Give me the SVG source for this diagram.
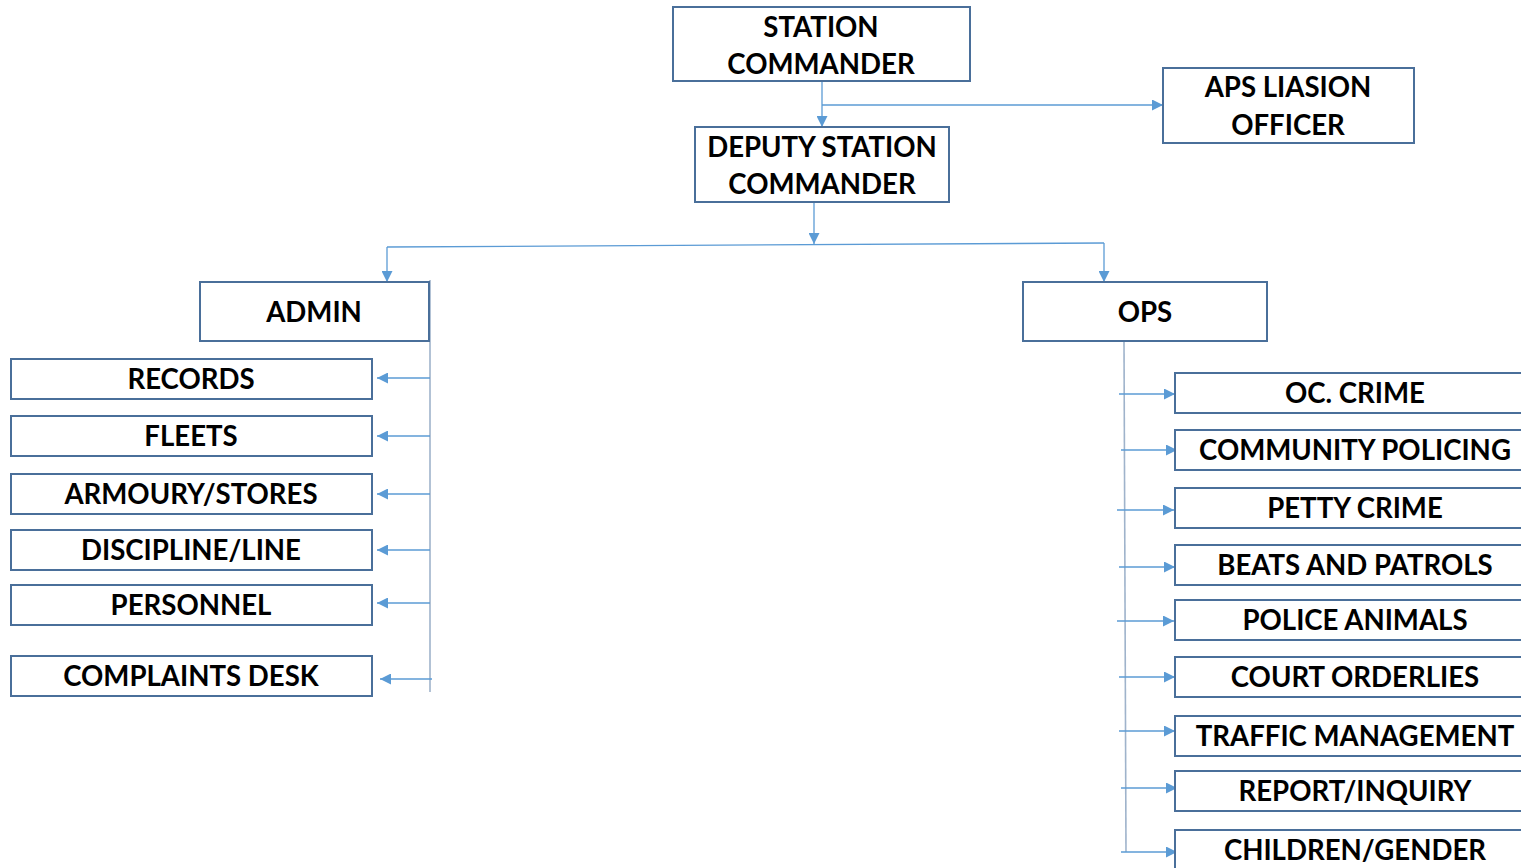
<svg xmlns="http://www.w3.org/2000/svg" width="1521" height="868" viewBox="0 0 1521 868">
<defs>
<style>
.box{fill:#fff;stroke:#4A6F9A;stroke-width:2}
.t{font-family:Lato,"Liberation Sans",sans-serif;font-weight:bold;font-size:27.6px;fill:#000;text-anchor:middle;dominant-baseline:central}
.c{stroke:#5B9BD5;stroke-width:1.3;fill:none}
.v{stroke:#9FB3CB;stroke-width:1.6;fill:none}
</style>
<marker id="ah" viewBox="0 0 10 10" refX="10" refY="5" markerWidth="11" markerHeight="11" markerUnits="userSpaceOnUse" orient="auto">
<path d="M0,0 L10,5 L0,10 z" fill="#5B9BD5"/>
</marker>
</defs>
<rect width="1521" height="868" fill="#fff"/>
<g id="connectors">
<line class="c" x1="822" y1="82" x2="822" y2="127" marker-end="url(#ah)"/>
<line class="c" x1="822" y1="105" x2="1163" y2="105" marker-end="url(#ah)"/>
<line class="c" x1="814" y1="203" x2="814" y2="244" marker-end="url(#ah)"/>
<line class="c" x1="387" y1="247" x2="1104" y2="243"/>
<line class="c" x1="387" y1="247" x2="387" y2="282" marker-end="url(#ah)"/>
<line class="c" x1="1104" y1="243" x2="1104" y2="282" marker-end="url(#ah)"/>
<line class="v" x1="430" y1="280" x2="430" y2="692"/>
<line class="c" x1="430" y1="378" x2="377" y2="378" marker-end="url(#ah)"/>
<line class="c" x1="430" y1="436" x2="377" y2="436" marker-end="url(#ah)"/>
<line class="c" x1="430" y1="494" x2="377" y2="494" marker-end="url(#ah)"/>
<line class="c" x1="430" y1="550" x2="377" y2="550" marker-end="url(#ah)"/>
<line class="c" x1="430" y1="603" x2="377" y2="603" marker-end="url(#ah)"/>
<line class="c" x1="432" y1="679" x2="380" y2="679" marker-end="url(#ah)"/>
<line class="v" x1="1124" y1="342" x2="1126" y2="852" stroke="#A9C8E8"/>
<line class="c" x1="1119" y1="394" x2="1175" y2="394" marker-end="url(#ah)"/>
<line class="c" x1="1121" y1="450" x2="1177" y2="450" marker-end="url(#ah)"/>
<line class="c" x1="1117" y1="510" x2="1174" y2="510" marker-end="url(#ah)"/>
<line class="c" x1="1119" y1="567" x2="1175" y2="567" marker-end="url(#ah)"/>
<line class="c" x1="1117" y1="621" x2="1174" y2="621" marker-end="url(#ah)"/>
<line class="c" x1="1119" y1="677" x2="1175" y2="677" marker-end="url(#ah)"/>
<line class="c" x1="1119" y1="731" x2="1175" y2="731" marker-end="url(#ah)"/>
<line class="c" x1="1121" y1="788" x2="1177" y2="788" marker-end="url(#ah)"/>
<line class="c" x1="1121" y1="852" x2="1177" y2="852" marker-end="url(#ah)"/>
</g>
<g id="station-commander"><rect class="box" x="673" y="7" width="297" height="74"/><text class="t" x="821" y="26">STATION</text><text class="t" x="821" y="63">COMMANDER</text></g>
<g id="aps-liaison"><rect class="box" x="1163" y="68" width="251" height="75"/><text class="t" x="1288" y="86">APS LIASION</text><text class="t" x="1288" y="124">OFFICER</text></g>
<g id="deputy"><rect class="box" x="695" y="127" width="254" height="75"/><text class="t" x="822" y="146">DEPUTY STATION</text><text class="t" x="822" y="183">COMMANDER</text></g>
<g id="admin"><rect class="box" x="200" y="282" width="229" height="59"/><text class="t" x="314" y="311">ADMIN</text></g>
<g id="ops"><rect class="box" x="1023" y="282" width="244" height="59"/><text class="t" x="1145" y="311">OPS</text></g>
<g id="records"><rect class="box" x="11" y="359" width="361" height="40"/><text class="t" x="191" y="378">RECORDS</text></g>
<g id="fleets"><rect class="box" x="11" y="416" width="361" height="40"/><text class="t" x="191" y="435">FLEETS</text></g>
<g id="armoury"><rect class="box" x="11" y="474" width="361" height="40"/><text class="t" x="191" y="493">ARMOURY/STORES</text></g>
<g id="discipline"><rect class="box" x="11" y="530" width="361" height="40"/><text class="t" x="191" y="549">DISCIPLINE/LINE</text></g>
<g id="personnel"><rect class="box" x="11" y="585" width="361" height="40"/><text class="t" x="191" y="604">PERSONNEL</text></g>
<g id="complaints"><rect class="box" x="11" y="656" width="361" height="40"/><text class="t" x="191" y="675">COMPLAINTS DESK</text></g>
<g id="oc-crime"><rect class="box" x="1175" y="373" width="360" height="40"/><text class="t" x="1355" y="392">OC. CRIME</text></g>
<g id="community"><rect class="box" x="1175" y="430" width="360" height="40"/><text class="t" x="1355" y="449">COMMUNITY POLICING</text></g>
<g id="petty"><rect class="box" x="1175" y="488" width="360" height="40"/><text class="t" x="1355" y="507">PETTY CRIME</text></g>
<g id="beats"><rect class="box" x="1175" y="545" width="360" height="40"/><text class="t" x="1355" y="564">BEATS AND PATROLS</text></g>
<g id="animals"><rect class="box" x="1175" y="600" width="360" height="40"/><text class="t" x="1355" y="619">POLICE ANIMALS</text></g>
<g id="court"><rect class="box" x="1175" y="657" width="360" height="40"/><text class="t" x="1355" y="676">COURT ORDERLIES</text></g>
<g id="traffic"><rect class="box" x="1175" y="716" width="360" height="40"/><text class="t" x="1355" y="735">TRAFFIC MANAGEMENT</text></g>
<g id="report"><rect class="box" x="1175" y="771" width="360" height="40"/><text class="t" x="1355" y="790">REPORT/INQUIRY</text></g>
<g id="children"><rect class="box" x="1175" y="830" width="360" height="45"/><text class="t" x="1355" y="849">CHILDREN/GENDER</text></g>
</svg>
